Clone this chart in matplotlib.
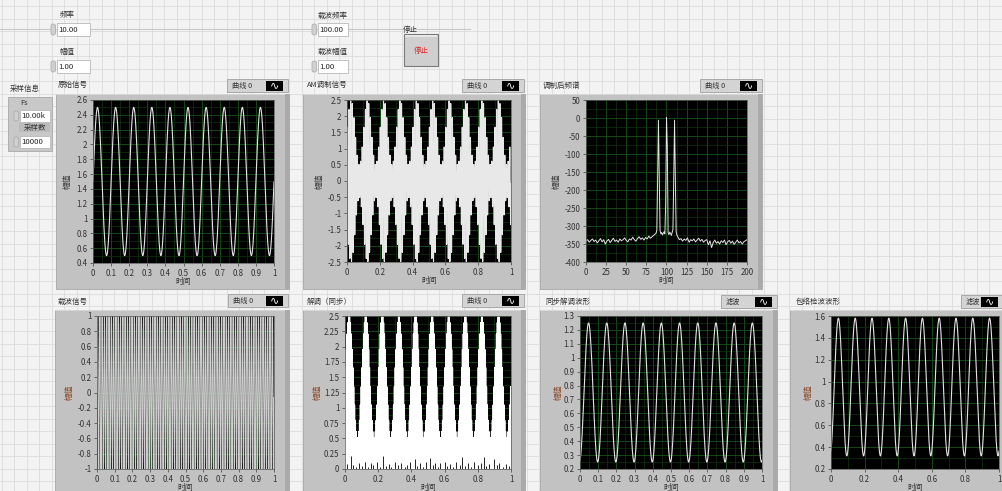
import numpy as np
import matplotlib
matplotlib.use('Agg')
import matplotlib.pyplot as plt
from matplotlib.patches import Rectangle, FancyBboxPatch
from matplotlib.ticker import MultipleLocator, AutoMinorLocator, FuncFormatter

plt.rcParams['font.family'] = ['Noto Sans CJK SC', 'DejaVu Sans']

W, H = 1003, 491

# ---------------- data ----------------
signal_freq = 10.0        # 频率
signal_amp = 1.0          # 幅值
signal_offset = 1.5       # DC level of 原始信号
carrier_freq = 100.0      # 载波频率
carrier_amp = 1.0         # 载波幅值
fs = 10000                # Fs
n_samples = 10000         # 采样数

sync_out_offset = 0.75    # 同步解调波形
sync_out_amp = 0.5
sync_out_delay = 0.022
env_out_offset = 0.95     # 包络检波波形
env_out_amp = 0.63
env_out_delay = 0.019

# spectrum (dB) read from 调制后频谱
spec_low_freq_start, spec_low_freq_step = 0, 2
spec_low_db = [-342, -338, -345, -340, -336, -343, -339, -347, -341, -335, -344,
               -338, -350, -342, -337, -346, -340, -334, -343, -339, -345, -336,
               -341, -338, -333, -340, -344, -336, -339, -331, -338, -342, -335,
               -330, -337, -333, -339, -332, -336, -328, -334, -330, -326, -322]
spec_peak_freq_start = 87
spec_peak_db = [-320, -312, -165, -6, -165, -312, -322, -318, -325, -320, -316,
                -322, -235, 2, -80, -318, -324, -317, -321, -326, -318, -310,
                -165, -6, -165, -316, -325]
spec_high_freq_start, spec_high_freq_step = 114, 2
spec_high_db = [-330, -338, -335, -342, -336, -340, -333, -345, -338, -341, -336,
                -344, -339, -334, -342, -337, -345, -340, -338, -352, -341, -360,
                -346, -339, -348, -343, -350, -341, -346, -339, -352, -344, -340,
                -348, -342, -351, -345, -339, -347, -343, -350, -344, -341, -338]

# dark gaps visible at the bottom of 解调（同步）
demod_gap_t = [0.01, 0.034, 0.05, 0.065, 0.085, 0.1, 0.12, 0.14, 0.155, 0.17,
               0.19, 0.21, 0.227, 0.245, 0.265, 0.28, 0.3, 0.32, 0.34, 0.36,
               0.375, 0.39, 0.42, 0.435, 0.45, 0.47, 0.485, 0.513, 0.53, 0.545,
               0.56, 0.575, 0.6, 0.615, 0.63, 0.65, 0.67, 0.69, 0.704, 0.72,
               0.74, 0.76, 0.78, 0.8, 0.82, 0.835, 0.85, 0.87, 0.9, 0.915,
               0.93, 0.95, 0.97, 0.99]
demod_gap_h = [0.08, 0.22, 0.06, 0.03, 0.1, 0.05, 0.12, 0.04, 0.09, 0.06,
               0.11, 0.04, 0.22, 0.05, 0.08, 0.03, 0.12, 0.06, 0.1, 0.04,
               0.07, 0.12, 0.16, 0.05, 0.09, 0.04, 0.12, 0.18, 0.06, 0.1,
               0.04, 0.09, 0.12, 0.05, 0.08, 0.03, 0.11, 0.06, 0.2, 0.05,
               0.09, 0.04, 0.12, 0.06, 0.1, 0.2, 0.05, 0.08, 0.16, 0.06,
               0.1, 0.04, 0.08, 0.05]

# ---------------- waveforms as produced by the VI ----------------
t = np.arange(n_samples) / fs
orig = signal_offset + signal_amp * np.sin(2 * np.pi * signal_freq * t)
carrier = carrier_amp * np.sin(2 * np.pi * carrier_freq * t)
am = orig * carrier
demod = am * carrier
sync_out = sync_out_offset + sync_out_amp * np.sin(2 * np.pi * signal_freq * (t - sync_out_delay))
env_out = env_out_offset + env_out_amp * np.sin(2 * np.pi * signal_freq * (t - env_out_delay))

spec_f = np.concatenate([
    spec_low_freq_start + spec_low_freq_step * np.arange(len(spec_low_db)),
    spec_peak_freq_start + np.arange(len(spec_peak_db)),
    spec_high_freq_start + spec_high_freq_step * np.arange(len(spec_high_db))])
spec_db = np.array(spec_low_db + spec_peak_db + spec_high_db, dtype=float)

# ---------------- figure / panel ----------------
fig = plt.figure(figsize=(W / 100, H / 100), dpi=100)
fig.patch.set_facecolor('#f3f3f3')
bg = fig.add_axes([0, 0, 1, 1])
bg.set_xlim(0, W)
bg.set_ylim(H, 0)
bg.axis('off')
bg.set_zorder(0)

# panel grid
for gx in np.arange(2, W, 12.5):
    bg.axvline(gx, color='#dcdcdc', lw=0.6, zorder=0)
for gy in np.arange(6, H, 12.5):
    bg.axhline(gy, color='#dcdcdc', lw=0.6, zorder=0)
bg.plot([0, 470], [29, 29], color='#c8c8c8', lw=0.8, zorder=0)

TXT = '#333333'


def rect(x0, y0, x1, y1, fc, ec='none', lw=0.6, z=1):
    bg.add_patch(Rectangle((x0, y0), x1 - x0, y1 - y0, facecolor=fc,
                           edgecolor=ec, lw=lw, zorder=z))


def frame(x0, y0, x1, y1):
    rect(x0, y0, x1, y1, '#c2c2c2', '#a6a6a6', 0.6, 1)
    rect(x0, y0, x1, y0 + 1.2, '#d6d6d6', z=1.1)
    rect(x1 - 4, y0, x1, y1, '#aaaaaa', z=1.1)


def legend(x0, y0, x1, y1, text):
    rect(x0, y0, x1, y1, '#d4d4d4', '#a0a0a0', 0.6, 2)
    bg.text(x0 + 5, (y0 + y1) / 2, text, fontsize=5.2, color=TXT,
            ha='left', va='center', zorder=3)
    rect(x1 - 22, y0 + 1.5, x1 - 5, y1 - 1.5, '#000000', z=3)
    bg.text(x1 - 13.5, (y0 + y1) / 2, '∿', fontsize=8, color='white',
            ha='center', va='center', zorder=4, family='DejaVu Sans')


def numctl(x0, y0, x1, y1, text):
    bg.add_patch(FancyBboxPatch((x0 - 6, y0 + 1), 4.5, y1 - y0 - 2,
                                boxstyle='round,pad=0,rounding_size=2',
                                facecolor='#d0d0d0', edgecolor='#a8a8a8',
                                lw=0.5, zorder=2))
    rect(x0, y0, x1, y1, '#ffffff', '#b8b8b8', 0.6, 2)
    bg.text(x0 + 1.5, (y0 + y1) / 2, text, fontsize=5.6, color='#222222',
            ha='left', va='center', zorder=3)


def label(x, y, text, **kw):
    kw.setdefault('fontsize', 5.4)
    kw.setdefault('color', TXT)
    bg.text(x, y, text, ha=kw.pop('ha', 'left'), va=kw.pop('va', 'center'),
            zorder=3, **kw)


# top controls
label(60, 15, '频率')
numctl(57, 23, 90, 36, '10.00')
label(60, 52, '幅值')
numctl(57, 60, 90, 73, '1.00')
label(318, 16, '载波频率')
numctl(318, 23, 348, 36, '100.00')
label(318, 52, '载波幅值')
numctl(318, 60, 348, 73, '1.00')
label(403, 30, '停止')
rect(404, 34, 438, 66, '#cfcfcf', '#7a7a7a', 0.8, 2)
rect(405, 35, 437, 36.5, '#e6e6e6', z=2.1)
label(421, 51, '停止', color='#e02020', ha='center')

# 采样信息 cluster
label(10, 89, '采样信息')
rect(8, 97, 52, 151, '#c8c8c8', '#a8a8a8', 0.6, 1)
label(24, 103, 'Fs', ha='center')
numctl(20, 110, 50, 122, '10.00k')
rect(19, 123, 50, 132, '#bcbcbc', z=1.5)
label(35, 127.5, '采样数', ha='center')
numctl(20, 136, 50, 148, '10000')

# graph frames, captions, legends
frame(56, 94, 289, 289);   label(58, 85, '原始信号');      legend(227, 79, 288, 92, '曲线 0')
frame(303, 94, 525, 289);  label(307, 85, 'AM调制信号');   legend(462, 79, 524, 92, '曲线 0')
frame(540, 94, 762, 289);  label(543, 86, '调制后频谱');   legend(700, 79, 762, 92, '曲线 0')
frame(55, 310, 289, 495);  label(58, 302, '载波信号');      legend(228, 294, 288, 307, '曲线 0')
frame(303, 310, 525, 495); label(307, 302, '解调（同步）');  legend(462, 294, 524, 307, '曲线 0')
frame(540, 310, 777, 495); label(545, 302, '同步解调波形');  legend(721, 295, 777, 308, '滤波')
frame(790, 310, 1010, 495); label(796, 302, '包络检波波形'); legend(961, 295, 1003, 308, '滤波')


def fmt(v, p):
    if abs(v) < 1e-9:
        return '0'
    return '%g' % round(v, 6)


def graph(x0, y0, x1, y1, xlim, ylim, xstep, ystep, ylab_dx, ylab_color):
    ax = fig.add_axes([x0 / W, 1 - y1 / H, (x1 - x0) / W, (y1 - y0) / H])
    ax.set_zorder(5)
    ax.set_facecolor('#000000')
    ax.set_xlim(*xlim)
    ax.set_ylim(*ylim)
    ax.xaxis.set_major_locator(MultipleLocator(xstep))
    ax.yaxis.set_major_locator(MultipleLocator(ystep))
    ax.xaxis.set_minor_locator(AutoMinorLocator(2))
    ax.yaxis.set_minor_locator(AutoMinorLocator(2))
    ax.xaxis.set_major_formatter(FuncFormatter(fmt))
    ax.yaxis.set_major_formatter(FuncFormatter(fmt))
    ax.grid(which='minor', color='#0e340e', lw=0.5)
    ax.grid(which='major', color='#185418', lw=0.6)
    ax.set_axisbelow(True)
    ax.tick_params(which='major', length=2.5, width=0.6, color='#555555',
                   labelsize=5.7, labelcolor=TXT, pad=1.5)
    ax.tick_params(which='minor', length=0)
    for s in ax.spines.values():
        s.set_color('#555555')
        s.set_linewidth(0.5)
    bg.text((x0 + x1) / 2, y1 + 19, '时间', fontsize=5.6, color=TXT,
            ha='center', va='center', zorder=3)
    bg.text(x0 + ylab_dx, (y0 + y1) / 2, '幅值', fontsize=5.6, color=ylab_color,
            ha='center', va='center', rotation=90, zorder=3)
    return ax


LINE = '#e4e4e4'
TOPY = '#3a3a3a'
BOTY = '#8a4a2a'

a1 = graph(93, 100, 274, 263, (0, 1), (0.4, 2.6), 0.1, 0.2, -26, TOPY)
a1.plot(t, orig, color=LINE, lw=0.8)

a2 = graph(347, 100, 511, 262, (0, 1), (-2.5, 2.5), 0.2, 0.5, -28, TOPY)
a2.plot(t, am, color='#e8e8e8', lw=0.8)

a3 = graph(586, 100, 747, 262, (0, 200), (-400, 50), 25, 50, -30, TOPY)
a3.plot(spec_f, spec_db, color=LINE, lw=0.7)

a4 = graph(97, 316, 274, 469, (0, 1), (-1, 1), 0.1, 0.2, -28, BOTY)
a4.plot(t, carrier, color='#d0d0d0', lw=0.55)

a5 = graph(345, 316, 511, 469, (0, 1), (0, 2.5), 0.2, 0.25, -28, BOTY)
a5.plot(t, demod, color='#ffffff', lw=0.9)
a5.vlines(demod_gap_t, 0, demod_gap_h, color='#000000', lw=0.6, zorder=3)

a6 = graph(580, 316, 762, 469, (0, 1), (0.2, 1.3), 0.1, 0.1, -22, BOTY)
a6.plot(t, sync_out, color=LINE, lw=0.8)

a7 = graph(831, 316, 999, 469, (0, 1), (0.2, 1.6), 0.2, 0.2, -23, BOTY)
a7.plot(t, env_out, color=LINE, lw=0.8)

fig.savefig('out.png', dpi=100, facecolor=fig.get_facecolor())
